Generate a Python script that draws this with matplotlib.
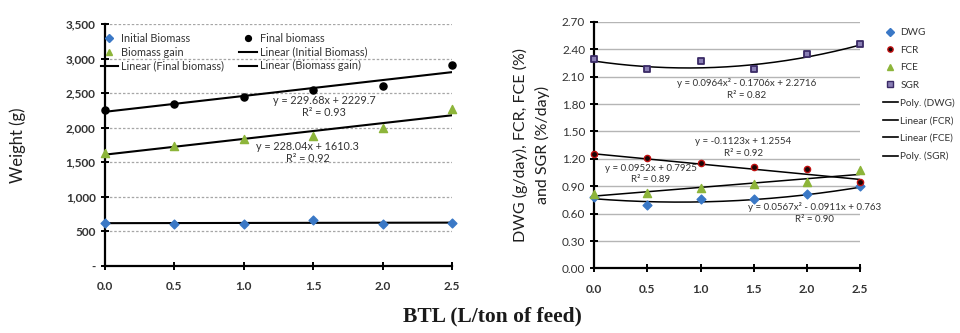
import numpy as np
import matplotlib
matplotlib.use("Agg")
import matplotlib.pyplot as plt
from matplotlib.lines import Line2D
from matplotlib.ticker import FixedLocator

plt.rcParams['font.family'] = ['Lato', 'DejaVu Sans']

# BTL dose levels (L/ton of feed)
btl = [0.0, 0.5, 1.0, 1.5, 2.0, 2.5]

# Biomass (g)
initial_biomass = [625, 610, 610, 665, 610, 625]
final_biomass = [2260, 2350, 2450, 2550, 2610, 2900]
biomass_gain = [1635, 1740, 1840, 1885, 2000, 2275]

# Trend equations (highest power first) and R² labels
final_fit = [229.68, 2229.7]
final_r2 = 0.93
gain_fit = [228.04, 1610.3]
gain_r2 = 0.92

# Growth indices
dwg = [0.78, 0.70, 0.765, 0.755, 0.81, 0.90]
fcr = [1.255, 1.205, 1.155, 1.11, 1.085, 0.945]
fce = [0.81, 0.83, 0.885, 0.92, 0.945, 1.08]
sgr = [2.29, 2.18, 2.27, 2.19, 2.35, 2.46]

dwg_fit = [0.0567, -0.0911, 0.763]
dwg_r2 = 0.90
fcr_fit = [-0.1123, 1.2554]
fcr_r2 = 0.92
fce_fit = [0.0952, 0.7925]
fce_r2 = 0.89
sgr_fit = [0.0964, -0.1706, 2.2716]
sgr_r2 = 0.82

left_yticks = [0, 500, 1000, 1500, 2000, 2500, 3000, 3500]
right_yticks = [0.00, 0.30, 0.60, 0.90, 1.20, 1.50, 1.80, 2.10, 2.40, 2.70]


def eq_text(coefs):
    parts = []
    n = len(coefs) - 1
    for i, c in enumerate(coefs):
        p = n - i
        if p == 2:
            term = f"{abs(c):g}x²"
        elif p == 1:
            term = f"{abs(c):g}x"
        else:
            term = f"{abs(c):g}"
        if i == 0:
            parts.append(("-" if c < 0 else "") + term)
        else:
            parts.append(("- " if c < 0 else "+ ") + term)
    return "y = " + " ".join(parts)


BLUE = '#3a78c6'
GREEN = '#8db53a'
GRID = '#a6a6a6'
xs = np.linspace(0, 2.5, 200)

fig = plt.figure(figsize=(9.6, 3.33), dpi=100)

# ---------------- Left panel: biomass ----------------
ax1 = fig.add_axes([0.109, 0.201, 0.362, 0.727])
ax1.set_xlim(0, 2.5)
ax1.set_ylim(0, 3500)
for v in left_yticks[1:]:
    ax1.axhline(v, color=GRID, lw=0.9, ls=(0, (2, 1.5)), zorder=1)

init_fit = np.polyfit(btl, initial_biomass, 1)
ax1.plot(xs, np.polyval(init_fit, xs), color='black', lw=1.5, zorder=2)
ax1.plot(xs, np.polyval(final_fit, xs), color='black', lw=1.5, zorder=2)
ax1.plot(xs, np.polyval(gain_fit, xs), color='black', lw=1.5, zorder=2)

ax1.scatter(btl, initial_biomass, marker='D', s=20, color=BLUE, zorder=3, clip_on=False)
ax1.scatter(btl, final_biomass, marker='o', s=26, color='black', zorder=3, clip_on=False)
ax1.scatter(btl, biomass_gain, marker='^', s=34, color=GREEN, zorder=3, clip_on=False)

tc = '#333333'
ax1.text(1.58, 2390, eq_text(final_fit), ha='center', va='center', fontsize=7.8, color=tc)
ax1.text(1.58, 2225, f"R² = {final_r2:.2f}", ha='center', va='center', fontsize=7.8, color=tc)
ax1.text(1.46, 1725, eq_text(gain_fit), ha='center', va='center', fontsize=7.8, color=tc)
ax1.text(1.46, 1555, f"R² = {gain_r2:.2f}", ha='center', va='center', fontsize=7.8, color=tc)

ax1.yaxis.set_major_locator(FixedLocator(left_yticks))
ax1.set_yticklabels(['-' if v == 0 else f"{v:,}" for v in left_yticks])
ax1.set_xticks(btl)
ax1.set_xticklabels([f"{v:.1f}" for v in btl])
for sp in ['top', 'right']:
    ax1.spines[sp].set_visible(False)
for sp in ['left', 'bottom']:
    ax1.spines[sp].set_linewidth(1.6)
ax1.tick_params(axis='both', direction='inout', length=6, width=1.4, labelsize=8.5, colors='black')
ax1.tick_params(axis='x', pad=8)
for lab in ax1.get_xticklabels() + ax1.get_yticklabels():
    lab.set_fontweight('bold')
    lab.set_color(tc)
ax1.set_ylabel('Weight (g)', fontsize=12, color='#1f1f1f')
ax1.yaxis.set_label_coords(-0.225, 0.5)

h_init = Line2D([], [], ls='none', marker='D', ms=3.6, color=BLUE)
h_final = Line2D([], [], ls='none', marker='o', ms=4.2, color='black')
h_gain = Line2D([], [], ls='none', marker='^', ms=4.8, color=GREEN)
h_line = Line2D([], [], color='black', lw=1.5)
leg1 = ax1.legend([h_init, h_gain, h_line, h_final, h_line, h_line],
                  ['Initial Biomass', 'Biomass gain', 'Linear (Final biomass)',
                   'Final biomass', 'Linear (Initial Biomass)', 'Linear (Biomass gain)'],
                  ncol=2, loc='upper left', bbox_to_anchor=(-0.03, 0.99), frameon=False,
                  fontsize=7.8, handlelength=1.6, handletextpad=0.3, labelspacing=0.25,
                  columnspacing=1.4, borderaxespad=0.2)
for t in leg1.get_texts():
    t.set_color(tc)

# ---------------- Right panel: growth indices ----------------
ax2 = fig.add_axes([0.619, 0.194, 0.277, 0.740])
ax2.set_xlim(0, 2.5)
ax2.set_ylim(0, 2.70)
for v in right_yticks[1:]:
    ax2.axhline(v, color='#b5b5b5', lw=1.0, zorder=1)

ax2.plot(xs, np.polyval(dwg_fit, xs), color='black', lw=1.1, zorder=2)
ax2.plot(xs, np.polyval(fcr_fit, xs), color='black', lw=1.1, zorder=2)
ax2.plot(xs, np.polyval(fce_fit, xs), color='black', lw=1.1, zorder=2)
ax2.plot(xs, np.polyval(sgr_fit, xs), color='black', lw=1.1, zorder=2)

ax2.scatter(btl, dwg, marker='D', s=20, color=BLUE, zorder=3, clip_on=False)
ax2.scatter(btl, fcr, marker='o', s=20, facecolor='#1a0505', edgecolor='#c01010', lw=1.0, zorder=3, clip_on=False)
ax2.scatter(btl, fce, marker='^', s=34, color=GREEN, zorder=3, clip_on=False)
ax2.scatter(btl, sgr, marker='s', s=22, facecolor='#8a7fb5', edgecolor='#3a2a66', lw=1.3, zorder=3, clip_on=False)

fs = 7.0
ax2.text(1.43, 2.035, eq_text(sgr_fit), ha='center', va='center', fontsize=fs, color=tc)
ax2.text(1.43, 1.895, f"R² = {sgr_r2:.2f}", ha='center', va='center', fontsize=fs, color=tc)
ax2.text(1.40, 1.385, eq_text(fcr_fit), ha='center', va='center', fontsize=fs, color=tc)
ax2.text(1.40, 1.255, f"R² = {fcr_r2:.2f}", ha='center', va='center', fontsize=fs, color=tc)
ax2.text(0.53, 1.10, eq_text(fce_fit), ha='center', va='center', fontsize=fs, color=tc)
ax2.text(0.53, 0.97, f"R² = {fce_r2:.2f}", ha='center', va='center', fontsize=fs, color=tc)
ax2.text(2.07, 0.67, eq_text(dwg_fit), ha='center', va='center', fontsize=fs, color=tc)
ax2.text(2.07, 0.54, f"R² = {dwg_r2:.2f}", ha='center', va='center', fontsize=fs, color=tc)

ax2.yaxis.set_major_locator(FixedLocator(right_yticks))
ax2.set_yticklabels([f"{v:.2f}" for v in right_yticks])
ax2.set_xticks(btl)
ax2.set_xticklabels([f"{v:.1f}" for v in btl])
for sp in ['top', 'right']:
    ax2.spines[sp].set_visible(False)
for sp in ['left', 'bottom']:
    ax2.spines[sp].set_linewidth(1.6)
ax2.tick_params(axis='both', direction='inout', length=6, width=1.4, labelsize=8.5, colors='black')
ax2.tick_params(axis='x', pad=8)
for lab in ax2.get_xticklabels():
    lab.set_fontweight('bold')
    lab.set_color(tc)
for lab in ax2.get_yticklabels():
    lab.set_color(tc)
ax2.set_ylabel('DWG (g/day), FCR, FCE (%)\nand SGR (%/day)', fontsize=11.5,
               color='#1f1f1f', linespacing=1.6)
ax2.yaxis.set_label_coords(-0.165, 0.5)

h_dwg = Line2D([], [], ls='none', marker='D', ms=3.6, color=BLUE)
h_fcr = Line2D([], [], ls='none', marker='o', ms=3.8, markerfacecolor='#1a0505', markeredgecolor='#c01010')
h_fce = Line2D([], [], ls='none', marker='^', ms=4.8, color=GREEN)
h_sgr = Line2D([], [], ls='none', marker='s', ms=3.8, markerfacecolor='#8a7fb5', markeredgecolor='#3a2a66')
h_tl = Line2D([], [], color='black', lw=1.2)
leg2 = ax2.legend([h_dwg, h_fcr, h_fce, h_sgr, h_tl, h_tl, h_tl, h_tl],
                  ['DWG', 'FCR', 'FCE', 'SGR', 'Poly. (DWG)', 'Linear (FCR)',
                   'Linear (FCE)', 'Poly. (SGR)'],
                  loc='upper left', bbox_to_anchor=(1.07, 0.99), frameon=False,
                  fontsize=7.2, handlelength=1.5, handletextpad=0.25, labelspacing=0.85,
                  borderaxespad=0.0)
for t in leg2.get_texts():
    t.set_color(tc)

fig.text(0.513, 0.05, 'BTL (L/ton of feed)', ha='center', va='center', fontsize=15.5,
         fontweight='bold', family=['Liberation Serif', 'DejaVu Serif'], color='#1a1a1a')

fig.savefig('out.png', dpi=100)
